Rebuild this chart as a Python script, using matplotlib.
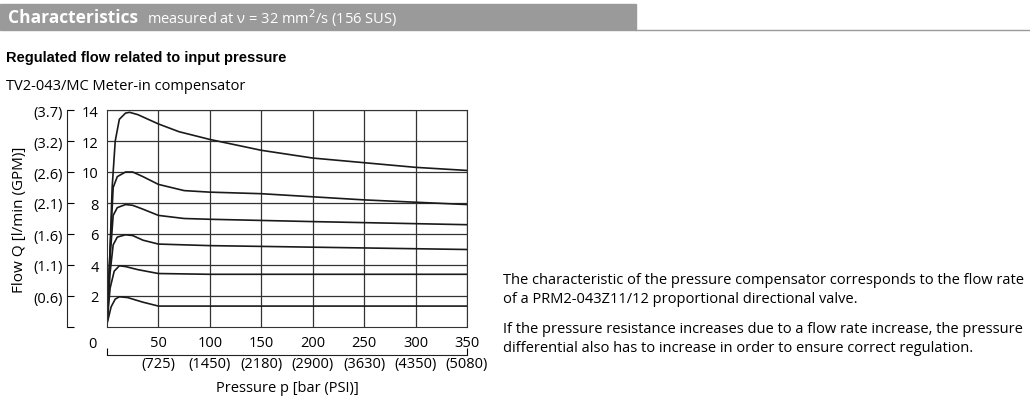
import matplotlib.pyplot as plt
from matplotlib.patches import Rectangle
from matplotlib.lines import Line2D

# pressure (bar) / flow (l/min) per curve
curves = [
    ([0, 3, 5, 8, 12, 18, 22, 30, 40, 50, 70, 100, 150, 200, 250, 300, 350],
     [0.2, 5, 9, 12, 13.4, 13.8, 13.85, 13.7, 13.4, 13.1, 12.6, 12.1, 11.4, 10.9, 10.6, 10.3, 10.1]),
    ([0, 3, 6, 10, 18, 25, 35, 50, 75, 100, 150, 200, 250, 300, 350],
     [0.2, 5, 9.0, 9.7, 10.0, 10.0, 9.7, 9.2, 8.8, 8.7, 8.6, 8.4, 8.2, 8.05, 7.9]),
    ([0, 3, 6, 10, 18, 25, 35, 50, 75, 100, 200, 350],
     [0.2, 4.5, 7.2, 7.7, 7.9, 7.85, 7.6, 7.2, 7.0, 6.95, 6.8, 6.6]),
    ([0, 3, 6, 10, 18, 25, 35, 50, 100, 350],
     [0.2, 3.5, 5.3, 5.8, 5.95, 5.9, 5.6, 5.35, 5.25, 5.0]),
    ([0, 3, 7, 12, 18, 30, 50, 100, 350],
     [0.2, 2.5, 3.6, 3.95, 3.9, 3.7, 3.45, 3.4, 3.4]),
    ([0, 4, 8, 12, 20, 35, 50, 350],
     [0.2, 1.3, 1.8, 1.95, 1.9, 1.6, 1.35, 1.35]),
]
bar_ticks = [50, 100, 150, 200, 250, 300, 350]
psi_labels = ['(725)', '(1450)', '(2180)', '(2900)', '(3630)', '(4350)', '(5080)']
lmin_ticks = [2, 4, 6, 8, 10, 12, 14]
gpm_labels = ['(0.6)', '(1.1)', '(1.6)', '(2.1)', '(2.6)', '(3.2)', '(3.7)']

plt.rcParams['font.family'] = ['Open Sans', 'DejaVu Sans']
W, H = 1030, 410
fig = plt.figure(figsize=(W / 100, H / 100), dpi=100)

# header bar
fig.patches.append(Rectangle((0, 1 - 31 / H), 636 / W, 26 / H, transform=fig.transFigure,
                             color='#9a9a9a', zorder=0))
fig.add_artist(Line2D([636 / W, 1], [1 - 31 / H] * 2, color='#9a9a9a', lw=1))
fig.text(8 / W, 1 - 18 / H, 'Characteristics', color='white', fontsize=12.5,
         fontweight='bold', va='center')
fig.text(147 / W, 1 - 18 / H, 'measured at ν = 32 mm$^2$/s (156 SUS)', color='white',
         fontsize=10.5, va='center')
fig.text(6 / W, 1 - 58 / H, 'Regulated flow related to input pressure', fontsize=10.5,
         fontweight='bold', va='center', family='Liberation Sans')
fig.text(6 / W, 1 - 87 / H, 'TV2-043/MC Meter-in compensator', fontsize=10.5, va='center')

ax = fig.add_axes([107 / W, 1 - 328 / H, 360 / W, 217 / H])
for x, y in curves:
    ax.plot(x, y, color='#1a1a1a', lw=1.2)
ax.set_xlim(0, 350)
ax.set_ylim(0, 14)
ax.set_xticks(bar_ticks)
ax.set_yticks(lmin_ticks)
ax.grid(True, color='#333333', lw=0.9)
for s in ax.spines.values():
    s.set_color('#333333')
ax.tick_params(length=0, labelsize=10.5, pad=6)
ax.set_xticklabels([str(t) for t in bar_ticks])

# secondary y axis in GPM
ay = ax.twinx()
ay.set_ylim(0, 14)
ay.yaxis.set_ticks_position('left')
ay.spines['left'].set_position(('outward', 29))
ay.spines['left'].set_color('#222222')
for k in ['right', 'top', 'bottom']:
    ay.spines[k].set_visible(False)
ay.set_yticks([0] + lmin_ticks)
ay.set_yticklabels([''] + gpm_labels)
ay.tick_params(axis='y', direction='in', length=5, labelsize=10.5, pad=3)
ay.yaxis.set_label_position('left')
ay.set_ylabel('Flow Q [l/min (GPM)]', fontsize=11, labelpad=4)

# secondary x axis in PSI
axp = ax.twiny()
axp.set_xlim(0, 350)
axp.xaxis.set_ticks_position('bottom')
axp.spines['bottom'].set_position(('outward', 20))
axp.spines['bottom'].set_color('#222222')
for k in ['left', 'right', 'top']:
    axp.spines[k].set_visible(False)
axp.set_xticks([0, 350])
axp.set_xticklabels(['', ''])
axp.tick_params(axis='x', direction='in', length=5)
for t, lab in zip(bar_ticks, psi_labels):
    axp.text(t, -0.17, lab, transform=axp.get_xaxis_transform(), ha='center', va='center',
             fontsize=10.5)
axp.text(0.5, -0.28, 'Pressure p [bar (PSI)]', transform=axp.transAxes, ha='center',
         va='center', fontsize=10.5)
fig.text(92 / W, 1 - 345 / H, '0', fontsize=10.5, va='center', ha='center')

fig.text(503 / W, 1 - 290 / H,
         'The characteristic of the pressure compensator corresponds to the flow rate\n'
         'of a PRM2-043Z11/12 proportional directional valve.',
         fontsize=10.5, va='center', linespacing=1.35)
fig.text(503 / W, 1 - 339 / H,
         'If the pressure resistance increases due to a flow rate increase, the pressure\n'
         'differential also has to increase in order to ensure correct regulation.',
         fontsize=10.5, va='center', linespacing=1.35)

fig.savefig('out.png', dpi=100)
